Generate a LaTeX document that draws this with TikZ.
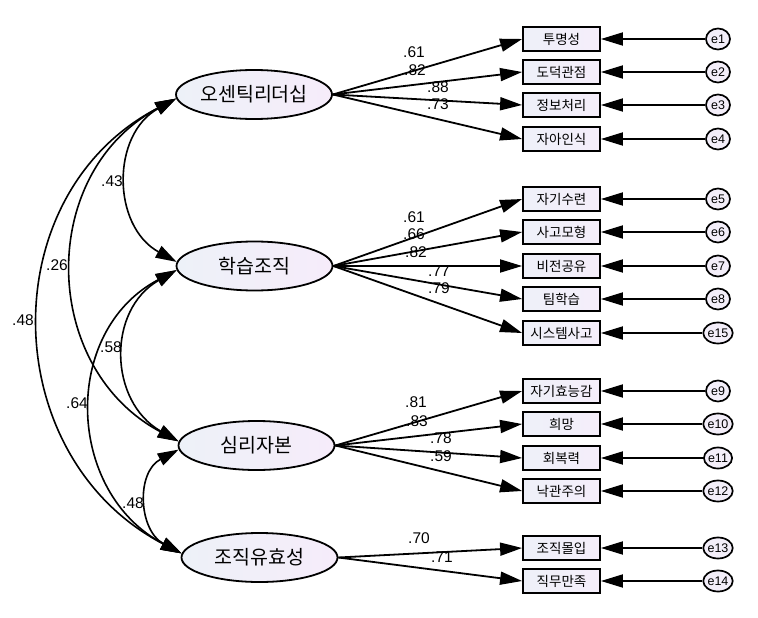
\documentclass[tikz,border=0pt]{standalone}
\usepackage{fontspec}
\setmainfont{Liberation Sans}
\newfontfamily\kr{Noto Sans CJK KR}
\usetikzlibrary{shapes.geometric,arrows.meta}
\definecolor{latL}{HTML}{EDF1F8}
\definecolor{latR}{HTML}{F6ECFA}
\definecolor{boxL}{HTML}{EEF0F9}
\definecolor{boxR}{HTML}{F5EEFA}
\definecolor{errF}{HTML}{F3EEF9}
\tikzset{
  latent/.style={ellipse, draw, line width=1.8pt, minimum width=156pt, minimum height=49pt, inner sep=0pt,
    left color=latL, right color=latR, text=black, font=\kr\fontsize{19.5}{19.5}\selectfont},
  obs/.style={rectangle, draw, line width=1.8pt, minimum width=77pt, minimum height=24pt, inner sep=0pt,
    left color=boxL, right color=boxR, text=black, font=\kr\fontsize{13.5}{13.5}\selectfont},
  err/.style={ellipse, draw, line width=1.7pt, minimum width=24pt, minimum height=21pt, inner sep=0pt,
    fill=errF, font=\fontsize{12.5}{12.5}\selectfont},
  load/.style={line width=1.8pt, -{Triangle[length=22pt,width=13pt]}},
  cov/.style={line width=1.6pt, {Triangle[length=21pt,width=13pt]}-{Triangle[length=21pt,width=13pt]}},
  lab/.style={inner sep=0pt, font=\fontsize{15.5}{15.5}\selectfont}
}
\begin{document}
\begin{tikzpicture}[x=1pt,y=-1pt]
\useasboundingbox[fill=white] (0,0) rectangle (758,618);

% latent variables
\node[latent] (E1) at (254,94.5) {오센틱리더십};
\node[latent] (E2) at (254.5,266) {학습조직};
\node[latent] (E3) at (256.5,445.5) {심리자본};
\node[latent] (E4) at (259.5,557.5) {조직유효성};

% observed variables
\node[obs] (b1) at (561.5,39) {투명성};
\node[obs] (b2) at (561.5,72) {도덕관점};
\node[obs] (b3) at (561.5,105) {정보처리};
\node[obs] (b4) at (561.5,139) {자아인식};
\node[obs] (b5) at (561.5,199) {자기수련};
\node[obs] (b6) at (561.5,232) {사고모형};
\node[obs] (b7) at (561.5,266) {비전공유};
\node[obs] (b8) at (561.5,299) {팀학습};
\node[obs] (b15) at (561.5,333) {시스템사고};
\node[obs] (b9) at (561.5,391) {자기효능감};
\node[obs] (b10) at (561.5,424) {희망};
\node[obs] (b11) at (561.5,458) {회복력};
\node[obs] (b12) at (561.5,491) {낙관주의};
\node[obs] (b13) at (561.5,548) {조직몰입};
\node[obs] (b14) at (561.5,581) {직무만족};

% errors
\foreach \n/\y in {1/39,2/72,3/105,4/139,5/199,6/232,7/266,8/299,15/333,9/391,10/424,11/458,12/491,13/548,14/581}{
  \node[err] (e\n) at (718,\y) {e\n};
  \draw[load] (e\n.west) -- (b\n.east);
}

% loadings
\foreach \b in {1,2,3,4}{\draw[load] (E1.east) -- (b\b.west);}
\foreach \b in {5,6,7,8,15}{\draw[load] (E2.east) -- (b\b.west);}
\foreach \b in {9,10,11,12}{\draw[load] (E3.east) -- (b\b.west);}
\foreach \b in {13,14}{\draw[load] (E4.east) -- (b\b.west);}

% loading labels
\node[lab] (l1) at (414,52) {.61};
\node[lab] (l2) at (415,70) {.82};
\node[lab] (l3) at (438,87) {.88};
\node[lab] (l4) at (438,104) {.73};
\node[lab] (l5) at (414,217) {.61};
\node[lab] (l6) at (414,234) {.66};
\node[lab] (l7) at (416,252) {.82};
\node[lab] (l8) at (439,271) {.77};
\node[lab] (l15) at (439,288) {.79};
\node[lab] (l9) at (416,402) {.81};
\node[lab] (l10) at (417,421) {.83};
\node[lab] (l11) at (441,438) {.78};
\node[lab] (l12) at (441,456) {.59};
\node[lab] (l13) at (419,538) {.70};
\node[lab] (l14) at (442,557) {.71};

% covariance labels
\node[lab] (c43) at (112,181) {.43};
\node[lab] (c26) at (57,265) {.26};
\node[lab] (c48a) at (23,320) {.48};
\node[lab] (c58) at (111,347) {.58};
\node[lab] (c64) at (77,403) {.64};
\node[lab] (c48b) at (133,503) {.48};

% covariances
\draw[cov] (E1.183) .. controls +(-65,36) and +(-65,-36) .. (E2.177);
\draw[cov] (E1.183) .. controls +(-139,74) and +(-139,-74) .. (E3.177);
\draw[cov] (E1.183) .. controls +(-185,96) and +(-185,-96) .. (E4.177);
\draw[cov] (E2.183) .. controls +(-70,40) and +(-70,-40) .. (E3.177);
\draw[cov] (E2.183) .. controls +(-116,61) and +(-116,-61) .. (E4.177);
\draw[cov] (E3.183) .. controls +(-43,23) and +(-43,-23) .. (E4.177);
\end{tikzpicture}
\end{document}
